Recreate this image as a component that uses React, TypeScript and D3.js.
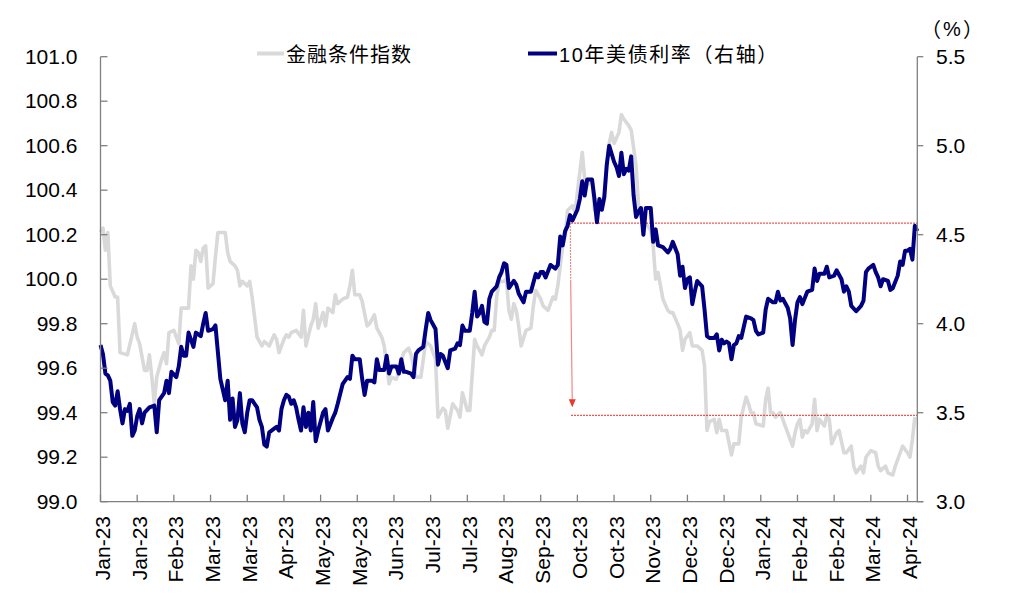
import React from "react";
import * as d3 from "d3";

// ---- data ----
const xTickLabels = ["Jan-23","Jan-23","Feb-23","Mar-23","Mar-23","Apr-23","May-23","May-23","Jun-23","Jul-23","Jul-23","Aug-23","Sep-23","Oct-23","Oct-23","Nov-23","Dec-23","Dec-23","Jan-24","Feb-24","Feb-24","Mar-24","Apr-24"];
const tickEveryDays = 15;
const lastDay = 334;

// 金融条件指数 (left axis): trading-day index and value
const fciDays = [0,1,2,3,4,6,7,8,11,14,15,16,17,18,19,20,21,22,23,25,26,27,28,30,32,33,36,37,38,39,40,41,42,43,44,46,47,48,51,52,53,55,56,57,58,60,61,62,64,66,67,69,71,72,73,75,76,77,78,80,82,83,84,86,87,88,89,91,92,93,95,96,97,99,101,102,103,104,106,107,109,110,112,113,115,116,118,119,121,122,124,126,127,129,131,133,135,137,138,140,141,142,144,146,147,148,150,151,153,154,156,157,159,160,161,162,163,165,166,167,168,169,170,171,172,174,176,177,178,180,181,182,183,185,186,187,189,190,191,193,194,195,197,198,199,201,202,204,206,207,208,209,210,212,213,214,216,217,219,220,221,222,223,225,226,227,228,229,230,232,233,234,236,237,238,239,241,242,244,246,247,248,249,251,252,253,254,256,258,259,261,262,264,265,266,267,268,271,272,273,274,275,276,278,279,280,281,283,284,285,286,287,288,289,291,292,293,294,296,297,298,299,301,302,304,305,307,308,309,311,312,313,315,317,318,319,321,322,324,325,327,328,330,331,332,333];
const fciValues = [100.21,100.23,100.13,100.21,99.97,99.92,99.92,99.67,99.66,99.80,99.74,99.71,99.65,99.59,99.59,99.66,99.56,99.44,99.56,99.64,99.67,99.62,99.76,99.77,99.71,99.87,99.87,100.06,100.00,100.13,100.12,100.08,100.14,100.15,99.96,99.98,100.10,100.21,100.21,100.12,100.08,100.06,100.04,99.97,99.99,99.97,99.99,99.92,99.74,99.70,99.72,99.70,99.75,99.73,99.67,99.73,99.75,99.74,99.76,99.77,99.74,99.86,99.70,99.79,99.82,99.89,99.78,99.85,99.79,99.87,99.85,99.93,99.89,99.91,99.92,99.97,100.04,99.93,99.93,99.90,99.79,99.80,99.84,99.78,99.74,99.70,99.53,99.56,99.55,99.59,99.67,99.69,99.66,99.56,99.56,99.72,99.70,99.64,99.38,99.42,99.41,99.33,99.44,99.41,99.38,99.49,99.41,99.41,99.73,99.70,99.66,99.70,99.74,99.77,99.77,99.92,99.99,99.99,100.00,99.86,99.82,99.89,99.86,99.79,99.70,99.77,99.78,99.88,99.95,99.91,99.88,99.87,99.86,99.92,99.91,99.97,100.15,100.19,100.31,100.33,100.30,100.39,100.57,100.45,100.42,100.45,100.31,100.34,100.37,100.51,100.61,100.66,100.61,100.66,100.74,100.72,100.69,100.67,100.51,100.33,100.28,100.24,100.25,100.22,100.15,100.00,100.03,99.97,99.91,99.86,99.85,99.85,99.80,99.77,99.68,99.73,99.76,99.70,99.70,99.68,99.61,99.32,99.36,99.37,99.31,99.37,99.32,99.32,99.21,99.26,99.26,99.38,99.47,99.44,99.40,99.40,99.35,99.34,99.46,99.51,99.40,99.40,99.38,99.40,99.37,99.34,99.31,99.25,99.31,99.35,99.37,99.29,99.32,99.31,99.35,99.46,99.32,99.37,99.34,99.39,99.37,99.26,99.31,99.32,99.22,99.22,99.25,99.16,99.13,99.16,99.13,99.20,99.23,99.22,99.16,99.14,99.16,99.13,99.12,99.16,99.22,99.25,99.22,99.20,99.28,99.38];

// 10年美债利率 (right axis, %)
const ustDays = [0,1,2,3,4,5,6,7,8,9,10,11,12,13,14,15,16,17,18,20,22,23,24,26,27,28,29,31,32,33,34,35,36,38,39,40,41,42,43,44,46,47,49,50,51,52,53,54,55,56,57,58,59,60,61,62,64,65,66,67,68,69,71,72,73,74,75,76,77,78,79,80,81,82,83,84,85,86,87,88,89,91,92,93,95,96,97,99,100,101,102,103,104,106,107,108,109,111,112,113,114,116,117,118,119,121,122,123,124,125,127,128,129,130,132,133,134,135,137,138,139,140,142,143,145,146,147,148,149,151,152,153,154,155,156,157,158,159,160,162,163,164,165,166,167,169,170,171,173,174,176,178,179,180,181,182,184,186,187,188,189,190,191,192,193,195,196,197,198,199,201,202,203,204,205,206,207,208,210,211,212,213,214,215,216,217,218,219,220,221,222,223,225,226,227,228,230,232,233,234,236,237,238,239,240,241,242,243,244,246,247,248,249,251,252,253,254,255,256,257,258,259,260,261,262,264,266,267,268,269,271,272,273,275,276,277,278,279,281,282,283,284,285,286,287,289,291,292,293,294,296,297,298,300,301,303,304,305,306,307,309,311,312,313,314,316,317,318,319,320,322,323,324,326,327,328,329,330,331,332,333,334];
const ustValues = [3.88,3.83,3.72,3.71,3.68,3.56,3.54,3.62,3.52,3.44,3.52,3.51,3.55,3.37,3.40,3.48,3.52,3.44,3.50,3.53,3.54,3.39,3.57,3.61,3.68,3.61,3.73,3.70,3.76,3.87,3.82,3.82,3.95,3.87,3.95,3.94,3.93,4.00,4.06,3.96,3.97,3.99,3.69,3.63,3.57,3.68,3.46,3.58,3.42,3.46,3.61,3.44,3.39,3.50,3.57,3.57,3.53,3.46,3.42,3.32,3.31,3.39,3.41,3.42,3.40,3.52,3.57,3.60,3.59,3.55,3.57,3.53,3.46,3.40,3.53,3.42,3.50,3.40,3.56,3.34,3.40,3.50,3.52,3.40,3.47,3.50,3.55,3.66,3.68,3.70,3.69,3.82,3.80,3.80,3.69,3.60,3.68,3.68,3.67,3.80,3.74,3.74,3.82,3.72,3.76,3.76,3.72,3.80,3.73,3.73,3.72,3.70,3.83,3.85,3.87,3.97,4.06,4.02,3.97,3.77,3.83,3.82,3.75,3.85,3.86,3.89,3.88,3.99,3.96,3.96,4.06,4.18,4.04,4.06,4.10,4.01,4.00,4.14,4.18,4.21,4.26,4.29,4.34,4.33,4.20,4.24,4.22,4.17,4.12,4.18,4.18,4.28,4.26,4.29,4.29,4.26,4.33,4.31,4.33,4.49,4.44,4.52,4.55,4.61,4.58,4.64,4.70,4.80,4.72,4.81,4.81,4.70,4.57,4.70,4.64,4.71,4.89,5.00,4.91,4.88,4.83,4.96,4.84,4.87,4.86,4.94,4.72,4.60,4.63,4.65,4.50,4.65,4.65,4.46,4.53,4.44,4.43,4.40,4.42,4.46,4.39,4.27,4.32,4.20,4.25,4.26,4.11,4.18,4.24,4.21,4.08,3.93,3.92,3.92,3.94,3.85,3.91,3.89,3.90,3.89,3.80,3.88,3.89,3.93,3.92,4.04,4.03,4.02,3.96,3.94,3.95,4.08,4.14,4.12,4.12,4.18,4.13,4.14,4.09,4.03,3.88,4.02,4.12,4.15,4.11,4.18,4.19,4.31,4.24,4.28,4.28,4.32,4.26,4.27,4.30,4.25,4.18,4.21,4.18,4.10,4.07,4.10,4.13,4.29,4.31,4.33,4.29,4.26,4.21,4.25,4.24,4.19,4.20,4.27,4.35,4.33,4.41,4.41,4.42,4.36,4.55,4.52];

// annotation (right-axis levels)
const annoDay = 192.5;
const annoHigh = 4.565;
const annoLow = 3.485;
const annoArrowTip = 3.53;
const annoDashEnd = 4.245;

const legendItems = ["金融条件指数", "10年美债利率（右轴）"];
const unitParts = ["（", "%", "）"];

const W = 1017, H = 597;
const left = 100.5, right = 917.3, top = 56.7, bottom = 501.7;

export default function App() {
  const x = d3.scaleLinear().domain([0, lastDay]).range([left, right]);
  const yL = d3.scaleLinear().domain([99, 101]).range([bottom, top]);
  const yR = d3.scaleLinear().domain([3, 5.5]).range([bottom, top]);

  const fciData = fciDays.map((d, i) => [d, fciValues[i]] as [number, number]);
  const ustData = ustDays.map((d, i) => [d, ustValues[i]] as [number, number]);
  const lineL = d3.line<[number, number]>().x(d => x(d[0])).y(d => yL(d[1]));
  const lineR = d3.line<[number, number]>().x(d => x(d[0])).y(d => yR(d[1]));

  const fmt = d3.format(".1f");
  const lTicks = d3.range(0, 11).map(i => 99 + i * 0.2);
  const rTicks = d3.range(0, 6).map(i => 3 + i * 0.5);
  const font = "'Liberation Sans', Arial, 'Noto Sans CJK SC', sans-serif";
  const cjk = "'Noto Sans CJK SC', sans-serif";
  const axisColor = "#808080";

  const ax = x(annoDay);
  const tipY = yR(annoArrowTip);

  return (
    <svg width={W} height={H} style={{ position: "absolute", left: 0, top: 0, background: "#fff" }} fontFamily={font}>
      <rect width={W} height={H} fill="#fff" />
      {/* gray series */}
      <path d={lineL(fciData) || ""} fill="none" stroke="#d9d9d9" strokeWidth={3.6} strokeLinejoin="round" />

      {/* annotation */}
      <line x1={ax} x2={x(lastDay)} y1={yR(annoHigh)} y2={yR(annoHigh)} stroke="#e8201a" strokeWidth={1.1} strokeDasharray="1.5 1.5" />
      <line x1={ax} x2={x(lastDay)} y1={yR(annoLow)} y2={yR(annoLow)} stroke="#e8201a" strokeWidth={1.1} strokeDasharray="1.5 1.5" />
      <line x1={ax - 1} x2={ax - 0.6} y1={yR(annoHigh)} y2={yR(annoDashEnd)} stroke="#ea5a55" strokeWidth={1.1} strokeDasharray="1.5 1.5" />
      <line x1={ax - 0.6} x2={ax + 1} y1={yR(annoDashEnd)} y2={tipY - 7} stroke="#f08a86" strokeWidth={1.2} />
      <path d={`M${ax + 1 - 3.5},${tipY - 8} L${ax + 1 + 3.5},${tipY - 8} L${ax + 1},${tipY} Z`} fill="#e8392f" />

      {/* navy series */}
      <path d={lineR(ustData) || ""} fill="none" stroke="#000080" strokeWidth={4} strokeLinejoin="round" />

      {/* axes */}
      <line x1={left} x2={left} y1={top} y2={bottom} stroke={axisColor} strokeWidth={1.3} />
      <line x1={right} x2={right} y1={top} y2={bottom} stroke={axisColor} strokeWidth={1.3} />
      <line x1={left} x2={right + 6} y1={bottom} y2={bottom} stroke={axisColor} strokeWidth={1.3} />
      {lTicks.map((t, i) => (
        <g key={"l" + i}>
          <line x1={left} x2={left + 7} y1={yL(t)} y2={yL(t)} stroke={axisColor} strokeWidth={1.3} />
          <text x={77.5} y={yL(t)} dy="0.34em" textAnchor="end" fontSize={21} fill="#000">{fmt(t)}</text>
        </g>
      ))}
      {rTicks.map((t, i) => (
        <g key={"r" + i}>
          <line x1={right} x2={right + 6} y1={yR(t)} y2={yR(t)} stroke={axisColor} strokeWidth={1.3} />
          <text x={936} y={yR(t)} dy="0.34em" textAnchor="start" fontSize={21} fill="#000">{fmt(t)}</text>
        </g>
      ))}
      {xTickLabels.map((lab, i) => {
        const xx = x(i * tickEveryDays);
        return (
          <g key={"x" + i}>
            <line x1={xx} x2={xx} y1={bottom} y2={bottom - 7} stroke={axisColor} strokeWidth={1.3} />
            <text transform={`translate(${xx},${516}) rotate(-90)`} dy="0.45em" textAnchor="end" fontSize={21} fill="#000">{lab}</text>
          </g>
        );
      })}

      {/* unit */}
      <text x={941} y={29} dy="0.38em" textAnchor="end" fontSize={20} fontFamily={cjk} fill="#000">{unitParts[0]}</text>
      <text x={952} y={29} dy="0.36em" textAnchor="middle" fontSize={20} fill="#000">{unitParts[1]}</text>
      <text x={963} y={29} dy="0.38em" textAnchor="start" fontSize={20} fontFamily={cjk} fill="#000">{unitParts[2]}</text>

      {/* legend */}
      <line x1={257} x2={284} y1={53.5} y2={53.5} stroke="#d9d9d9" strokeWidth={4} />
      <text x={286} y={53.5} dy="0.4em" fontSize={20} letterSpacing={1.0} fill="#000">{legendItems[0]}</text>
      <line x1={528} x2={557} y1={53.5} y2={53.5} stroke="#000080" strokeWidth={4} />
      <text x={559} y={53.5} dy="0.4em" fontSize={20} letterSpacing={1.6} fill="#000">{legendItems[1]}</text>
    </svg>
  );
}
